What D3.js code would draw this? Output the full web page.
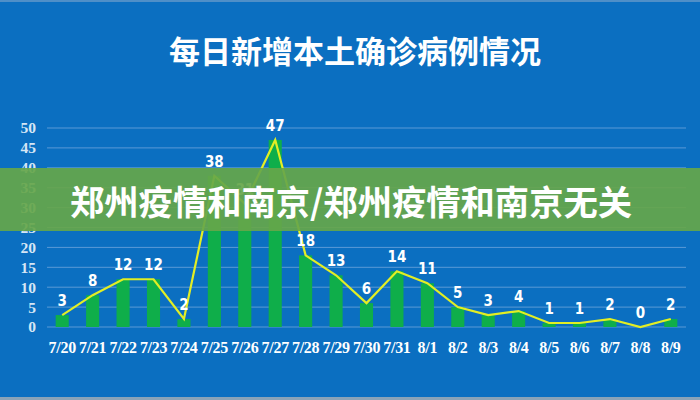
<!DOCTYPE html>
<html>
<head>
<meta charset="utf-8">
<title>每日新增本土确诊病例情况</title>
<style>
  body { margin: 0; background: #0b6fc1; }
  svg { display: block; }
  .ax text { font-family: 'Liberation Serif', 'Times New Roman', serif; font-weight: bold; }
</style>
</head>
<body>
<div id="chart"></div>
<script src="https://d3js.org/d3.v7.min.js"></script>
<script>
// data
var dates  = ["7/20","7/21","7/22","7/23","7/24","7/25","7/26","7/27","7/28","7/29","7/30",
              "7/31","8/1","8/2","8/3","8/4","8/5","8/6","8/7","8/8","8/9"];
var cases  = [3, 8, 12, 12, 2, 38, 31, 47, 18, 13, 6, 14, 11, 5, 3, 4, 1, 1, 2, 0, 2];
var yTicks = [0, 5, 10, 15, 20, 25, 30, 35, 40, 45, 50];
var title  = "每日新增本土确诊病例情况";
var banner = "郑州疫情和南京/郑州疫情和南京无关";

var width = 700, height = 400;

var svg = d3.select("#chart").append("svg")
    .attr("width", width)
    .attr("height", height);

// background
svg.append("rect")
    .attr("width", width).attr("height", height)
    .attr("fill", "#0b6fc1");
svg.append("rect")
    .attr("y", height - 3).attr("width", width).attr("height", 3)
    .attr("fill", "#8aa3b8");
svg.append("rect")
    .attr("width", width).attr("height", 2)
    .attr("fill", "#4f8fc8");

svg.append("text")
    .attr("x", 355).attr("y", 63)
    .attr("text-anchor", "middle")
    .attr("fill", "white")
    .style("font-family", "'Noto Sans CJK SC', sans-serif")
    .style("font-weight", "bold")
    .style("font-size", "31px")
    .text(title);

var x = d3.scaleBand()
    .domain(dates)
    .range([47, 686])
    .paddingInner(0.57)
    .paddingOuter(0.285);

var y = d3.scaleLinear()
    .domain([0, 50])
    .range([327, 128]);

// grid lines
svg.append("g")
    .selectAll("line")
    .data(yTicks)
    .enter().append("line")
    .attr("x1", 47).attr("x2", 686)
    .attr("y1", function(d){ return y(d); })
    .attr("y2", function(d){ return y(d); })
    .attr("stroke", "#5b9ad6")
    .attr("stroke-width", 1);

// y axis labels
var yAxis = d3.axisLeft(y).tickValues(yTicks).tickSize(0).tickPadding(11);
var gy = svg.append("g")
    .attr("class", "ax")
    .attr("transform", "translate(47,0)")
    .call(yAxis);
gy.select(".domain").remove();
gy.attr("font-size", 15.5).attr("font-family", "'Liberation Serif', serif");
gy.selectAll("text").attr("fill", "#d6e6f5");

// x axis labels
var xAxis = d3.axisBottom(x).tickSize(0).tickPadding(15);
var gx = svg.append("g")
    .attr("class", "ax")
    .attr("transform", "translate(0,327)")
    .call(xAxis);
gx.select(".domain").remove();
gx.attr("font-size", 16).attr("font-family", "'Liberation Serif', serif");
gx.selectAll("text")
    .attr("fill", "white")
    .attr("letter-spacing", "-0.3");

// bars
svg.append("g")
    .selectAll("rect")
    .data(cases)
    .enter().append("rect")
    .attr("x", function(d, i){ return x(dates[i]); })
    .attr("y", function(d){ return y(d); })
    .attr("width", x.bandwidth())
    .attr("height", function(d){ return y(0) - y(d); })
    .attr("fill", "#0fae4a");

// line
var line = d3.line()
    .x(function(d, i){ return x(dates[i]) + x.bandwidth() / 2; })
    .y(function(d){ return y(d); });

svg.append("path")
    .datum(cases)
    .attr("d", line)
    .attr("fill", "none")
    .attr("stroke", "#e2ee24")
    .attr("stroke-width", 2.2);

// value labels
svg.append("g")
    .selectAll("text")
    .data(cases)
    .enter().append("text")
    .attr("x", function(d, i){ return x(dates[i]) + x.bandwidth() / 2; })
    .attr("y", function(d){ return y(d) - 9; })
    .attr("text-anchor", "middle")
    .attr("fill", "white")
    .style("font-family", "'DejaVu Sans', sans-serif")
    .style("font-stretch", "condensed")
    .style("font-weight", "bold")
    .style("font-size", "15px")
    .text(function(d){ return d; });

// green overlay banner
svg.append("rect")
    .attr("x", 0).attr("y", 168)
    .attr("width", width).attr("height", 63)
    .attr("fill", "#66a64a")
    .attr("opacity", 0.92);

svg.append("text")
    .attr("x", 70).attr("y", 215)
    .attr("fill", "white")
    .style("font-family", "'Noto Sans CJK SC', sans-serif")
    .style("font-weight", "bold")
    .style("font-size", "34.3px")
    .text(banner);
</script>
</body>
</html>
